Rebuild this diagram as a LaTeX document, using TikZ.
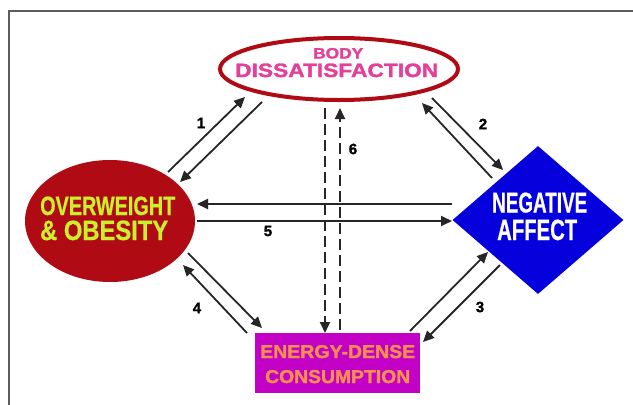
\documentclass[tikz,border=0pt]{standalone}
\usepackage{fontspec}
\setmainfont{Liberation Sans}
\newfontfamily\heavy[BoldFeatures={FakeBold=1.6}]{Liberation Sans}
\newfontfamily\semiheavy[BoldFeatures={FakeBold=0.8}]{Liberation Sans}
\usepackage{graphicx}
\usetikzlibrary{shapes.geometric,arrows.meta}
\definecolor{bred}{HTML}{B00A14}
\definecolor{pinkt}{HTML}{E4409A}
\definecolor{limet}{HTML}{C9F02A}
\definecolor{nblue}{HTML}{0500DC}
\definecolor{emag}{HTML}{C200C6}
\definecolor{oranget}{HTML}{F78F50}
\definecolor{arrc}{HTML}{262626}
\definecolor{framec}{HTML}{5C5C5C}
\begin{document}
\begin{tikzpicture}[x=1pt,y=-1pt,
  arr/.style={draw=arrc, line width=1.8pt, -{Triangle[length=11pt,width=10pt]}},
  darr/.style={arr, dash pattern=on 11pt off 5pt},
  lab/.style={font=\heavy\bfseries\fontsize{15}{15}\selectfont, inner sep=0, text=black},
  txt/.style={anchor=base west, inner sep=0, font=\heavy\bfseries},
  ctxt/.style={anchor=base west, inner sep=0, font=\semiheavy\bfseries}]
\useasboundingbox (0,0) rectangle (633,405);
\fill[white] (0,0) rectangle (633,405);
\draw[draw=framec, line width=1.6pt] (9,405) -- (9,11) -- (633,11);

% shapes
\node[ellipse, draw=bred, line width=4pt, fill=white, minimum width=238pt, minimum height=62pt, inner sep=0] (body) at (339,69) {};
\node[ellipse, fill=bred, minimum width=170pt, minimum height=122pt, inner sep=0] (ow) at (110,221) {};
\node[diamond, fill=nblue, minimum width=171pt, minimum height=148pt, inner sep=0] (na) at (538,220) {};
\node[rectangle, fill=emag, minimum width=165pt, minimum height=60pt, inner sep=0] (ed) at (337.5,363) {};

% texts
\node[txt, text=pinkt] (bt1) at (313,58.5) {\resizebox{50pt}{10.5pt}{BODY}};
\node[txt, text=pinkt] (bt2) at (235,77) {\resizebox{203pt}{13.5pt}{DISSATISFACTION}};
\node[ctxt, text=limet] (ot1) at (40,215) {\resizebox{135pt}{18.5pt}{OVERWEIGHT}};
\node[ctxt, text=limet] (ot2) at (40,240) {\resizebox{128pt}{19.5pt}{\&\ OBESITY}};
\node[ctxt, text=white] (nt1) at (492,212.5) {\resizebox{95pt}{20pt}{NEGATIVE}};
\node[ctxt, text=white] (nt2) at (497,240) {\resizebox{80pt}{20.5pt}{AFFECT}};
\node[txt, text=oranget] (et1) at (260,358) {\resizebox{155pt}{13pt}{ENERGY-DENSE}};
\node[txt, text=oranget] (et2) at (265,383) {\resizebox{145pt}{13pt}{CONSUMPTION}};

% arrow end points
\coordinate (a1s) at (168,172); \coordinate (a1e) at (245,97);
\coordinate (b1s) at (262,102); \coordinate (b1e) at (180,182);
\coordinate (a2s) at (492,178); \coordinate (a2e) at (422,103);
\coordinate (b2s) at (432,98);  \coordinate (b2e) at (503,170);
\coordinate (a5s) at (452,204); \coordinate (a5e) at (197,204);
\coordinate (b5s) at (197,221); \coordinate (b5e) at (452,221);
\coordinate (a6s) at (325,108); \coordinate (a6e) at (325,333);
\coordinate (b6s) at (340,330); \coordinate (b6e) at (340,108);
\coordinate (a3s) at (410,331); \coordinate (a3e) at (488,252);
\coordinate (b3s) at (500,265); \coordinate (b3e) at (423,342);
\coordinate (a4s) at (247,333); \coordinate (a4e) at (183,265);
\coordinate (b4s) at (188,253); \coordinate (b4e) at (262,328);

\draw[arr] (a1s) -- (a1e);
\draw[arr] (b1s) -- (b1e);
\draw[arr] (a2s) -- (a2e);
\draw[arr] (b2s) -- (b2e);
\draw[arr] (a5s) -- (a5e);
\draw[arr] (b5s) -- (b5e);
\draw[darr] (a6s) -- (a6e);
\draw[darr] (b6s) -- (b6e);
\draw[arr] (a3s) -- (a3e);
\draw[arr] (b3s) -- (b3e);
\draw[arr] (a4s) -- (a4e);
\draw[arr] (b4s) -- (b4e);

% labels
\node[lab] (l1) at (201,123) {1};
\node[lab] (l2) at (483,124) {2};
\node[lab] (l3) at (480,307) {3};
\node[lab] (l4) at (197,308) {4};
\node[lab] (l5) at (268,231) {5};
\node[lab] (l6) at (353,149) {6};
\end{tikzpicture}
\end{document}
